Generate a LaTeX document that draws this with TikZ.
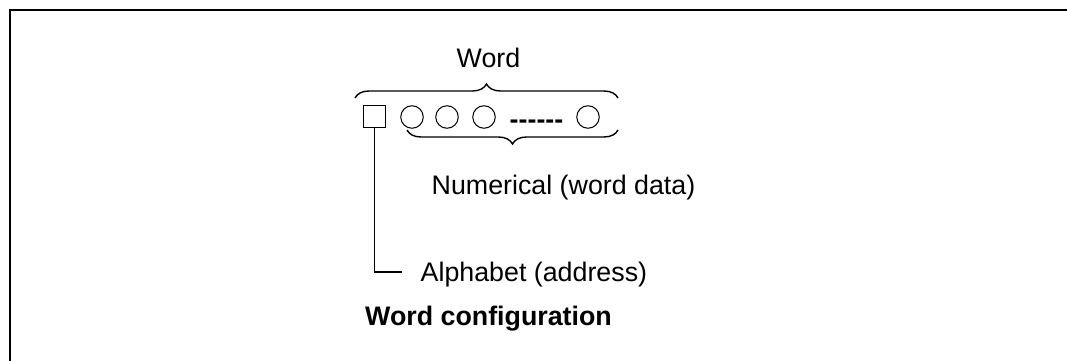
\documentclass[tikz,border=0pt]{standalone}
\usepackage{fontspec}
\setmainfont{Liberation Sans}
\usetikzlibrary{decorations.pathreplacing}
\begin{document}
\begin{tikzpicture}[x=1pt,y=-1pt,
  lbl/.style={font=\fontsize{26.8}{30}\selectfont, inner sep=0pt, anchor=base west},
  bit/.style={draw, line width=1pt, inner sep=0pt, minimum size=22.5pt},
  brc/.style={decorate, decoration={brace, amplitude=14pt}, line width=1.4pt},
  conn/.style={line width=1.5pt}]
\useasboundingbox (0,0) rectangle (1067,361);
\draw[line width=2pt] (10,361) -- (10,10) -- (1067,10);
\node[lbl, anchor=base] (word) at (488.5,67) {Word};
\node[bit, rectangle] (sq) at (374.5,116.5) {};
\node[bit, circle] (c1) at (412,117) {};
\node[bit, circle] (c2) at (447,117) {};
\node[bit, circle] (c3) at (484,117) {};
\node[lbl, anchor=base, font=\fontsize{26.8}{30}\selectfont\bfseries] (dots) at (536.5,128) {\mbox{-}\mbox{-}\mbox{-}\mbox{-}\mbox{-}\mbox{-}};
\node[bit, circle] (c4) at (588,117) {};
\coordinate (ub1) at (355,98);
\coordinate (ub2) at (618,98);
\draw[brc] (ub1) -- (ub2);
\coordinate (lb1) at (407,130);
\coordinate (lb2) at (618,130);
\draw[brc, decoration={brace, mirror, amplitude=14pt}] (lb1) -- (lb2);
\node[lbl] (num) at (431.5,194.3) {Numerical (word data)};
\node[lbl] (alpha) at (420.5,281) {Alphabet (address)};
\node[lbl, font=\fontsize{26.8}{30}\selectfont\bfseries] (cfg) at (365,325) {Word configuration};
\coordinate (corner) at (sq.south |- 0,272);
\coordinate (lend) at (401.5,272);
\draw[conn] (sq.south) -- (corner) -- (lend);
\end{tikzpicture}
\end{document}
